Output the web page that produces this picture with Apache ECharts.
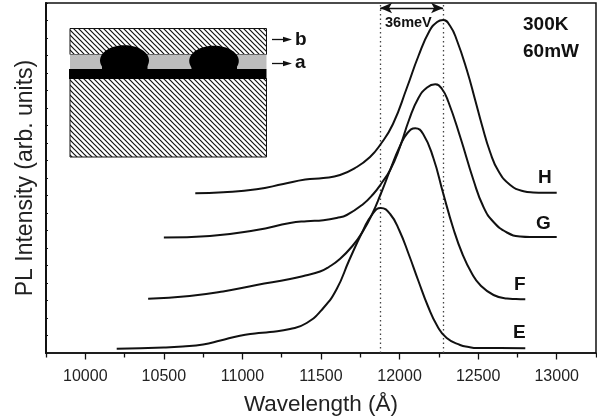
<!DOCTYPE html>
<html><head><meta charset="utf-8">
<style>html,body{margin:0;padding:0;background:#fff}#c{width:597px;height:420px}</style>
<script src="https://cdn.jsdelivr.net/npm/echarts@6/dist/echarts.min.js"></script>
</head><body><div id="c"></div>
<script>
const xMajor=[10000,10500,11000,11500,12000,12500,13000];
const xMinor=[9750,10250,10750,11250,11750,12250,12750,13250];
const peakMarks=[11876,12277];
const eX=[10200,10500,10620,10750,10860,10984,11080,11175,11303,11409,11515,11600,11680,11769,11823,11880,11940,12000,12060,12120,12180,12240,12300,12385,12440,12491,12640,12800];
const eY=[4.3,5.5,6.5,8.5,12.5,17.3,19.5,21,24,30,45,64,93,123,138,145,139,122,98,72,47,27,15,8,6,5,5,4.7];
const fX=[10400,10664,10877,11090,11303,11400,11494,11550,11620,11700,11768,11823,11880,11940,12000,12050,12100,12150,12215,12277,12341,12400,12462,12513,12598,12683,12740,12800];
const fY=[54.3,57,61.5,68,74,77.5,81.5,86,94,107,122,138,159,183,206,220,224.7,219,195,160,125,99,79,68,58,54.5,54,53.7];
const gX=[10500,10793,11090,11303,11409,11515,11600,11664,11769,11833,11886,11940,12000,12060,12120,12175,12227,12270,12311,12386,12470,12534,12598,12683,12768,12830,12895,13000];
const gY=[115.5,117,123,130,131.8,132.8,135,138,149,159,170,183,205,233,255,265.5,268.7,264,251,216,173,146,131,120.5,116.5,116,116,116];
const hX=[10700,10878,11090,11260,11400,11515,11621,11728,11812,11876,11958,12046,12120,12190,12239,12277,12322,12364,12428,12481,12524,12576,12629,12704,12789,12850,12920,13000];
const hY=[159.7,160.7,163.7,169,173.5,175,178,186,196,208,229,265,297,322,331,333,327,313,283,253,228,201,182,168,161.8,160.6,160.3,160.3];
const FONT='"Liberation Sans", Arial, sans-serif', INK='#111';

const pat=document.createElement('canvas');pat.width=5;pat.height=5;
(function(){const c=pat.getContext('2d');c.fillStyle='#fff';c.fillRect(0,0,5,5);c.strokeStyle='#111';c.lineWidth=1.2;
 c.beginPath();[[-1,-1,6,6],[-6,-1,1,6],[4,-1,11,6]].forEach(s=>{c.moveTo(s[0],s[1]);c.lineTo(s[2],s[3]);});c.stroke();})();
const hatch={image:pat,repeat:'repeat'};

function pairs(x,y){return x.map((v,i)=>[v,y[i]]);}
function curve(name,x,y,extra){return Object.assign({name,type:'line',data:pairs(x,y),smooth:0.5,showSymbol:false,symbol:'none',
  lineStyle:{color:INK,width:2},z:5,silent:true},extra||{});}
function txt(text,x,y,size,w){return {type:'text',x,y,z:20,style:{text,fill:INK,font:(w||'bold')+' '+size+'px '+FONT,textVerticalAlign:'middle',textBaseline:'middle'}};}
function arrow(y){return [
  {type:'line',z:20,shape:{x1:272,y1:y,x2:285,y2:y},style:{stroke:INK,lineWidth:1.3}},
  {type:'polygon',z:20,shape:{points:[[283,y-2.8],[292,y],[283,y+2.8]]},style:{fill:INK}}];}

const chart=echarts.init(document.getElementById('c'),null,{renderer:'canvas'});
chart.setOption({
 animation:false,backgroundColor:'#fff',
 grid:{left:46,right:1,top:3,height:350,show:true,borderColor:INK,borderWidth:1.5,backgroundColor:'transparent',outerBoundsMode:'none'},
 xAxis:[{type:'value',min:9750,max:13250,position:'bottom',splitLine:{show:false},
   axisLine:{lineStyle:{color:INK,width:1.5}},
   axisTick:{length:6.5,customValues:xMajor,lineStyle:{color:INK,width:1.3}},
   axisLabel:{customValues:xMajor,color:'#222',fontFamily:FONT,fontSize:16,margin:16,formatter:v=>String(v)},
   name:'Wavelength (Å)',nameLocation:'middle',nameGap:40,nameTextStyle:{color:'#222',fontFamily:FONT,fontSize:22.5}},
  {type:'value',min:9750,max:13250,position:'bottom',splitLine:{show:false},
   axisLine:{show:false},axisTick:{length:4.5,customValues:xMinor,lineStyle:{color:INK,width:1.3}},axisLabel:{show:false}}],
 yAxis:{type:'value',min:0,max:350,interval:17.5,splitLine:{show:false},
   axisLine:{lineStyle:{color:INK,width:2}},axisTick:{inside:true,length:2,lineStyle:{color:INK,width:1}},axisLabel:{show:false},
   name:'PL Intensity (arb. units)',nameLocation:'middle',nameGap:9,nameTextStyle:{color:'#222',fontFamily:FONT,fontSize:23}},
 series:[
  curve('E',eX,eY,{markLine:{silent:true,symbol:'none',label:{show:false},animation:false,
     lineStyle:{color:'#444',type:[1.5,3],width:1.3},data:peakMarks.map(v=>({xAxis:v}))}}),
  curve('F',fX,fY),curve('G',gX,gY),
  curve('H',hX,hY,{markLine:{silent:true,symbol:['arrow','arrow'],symbolSize:[8,12],label:{show:false},animation:false,
     lineStyle:{color:INK,type:'solid',width:1.3},
     data:[[{coord:[peakMarks[0],345]},{coord:[peakMarks[1],345]}]]}})
 ],
 graphic:[
  {type:'rect',z:10,shape:{x:70,y:28.5,width:196.5,height:26},style:{fill:hatch,stroke:INK,lineWidth:1}},
  {type:'rect',z:10,shape:{x:70,y:78.5,width:196.5,height:78.5},style:{fill:hatch,stroke:INK,lineWidth:1}},
  {type:'rect',z:11,shape:{x:70,y:54.5,width:196.5,height:14.5},style:{fill:'#bdbdbd',stroke:null}},
  {type:'rect',z:12,shape:{x:69,y:69,width:197.5,height:10},style:{fill:'#000'}},
  {type:'ellipse',z:12,shape:{cx:124.5,cy:60.5,rx:24.5,ry:15.2},style:{fill:'#000'}},
  {type:'rect',z:12,shape:{x:102,y:62,width:45.5,height:8},style:{fill:'#000'}},
  {type:'ellipse',z:12,shape:{cx:214,cy:61,rx:24.8,ry:15.2},style:{fill:'#000'}},
  {type:'rect',z:12,shape:{x:191.5,y:62,width:45.5,height:8},style:{fill:'#000'}},
  ...arrow(39.5),...arrow(63.5),
  txt('b',295,40,19),txt('a',295,63,19),
  txt('36meV',385,23,14.5),
  txt('300K',523,25,19),txt('60mW',523,52,19),
  txt('H',538,178,19),txt('G',536,224,19),txt('F',514,285,19),txt('E',513,333,19)
 ]
});
</script></body></html>
